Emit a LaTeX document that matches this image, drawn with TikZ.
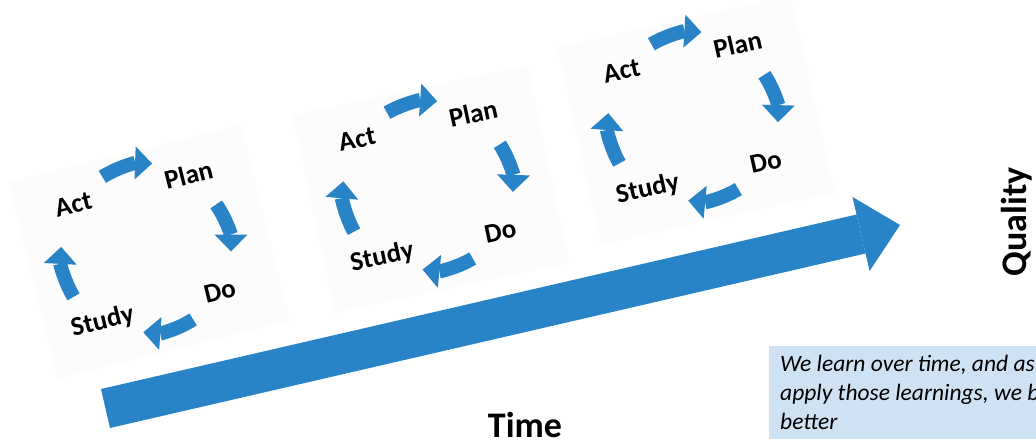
\documentclass[tikz,border=0pt]{standalone}
\usepackage{fontspec}
\setmainfont{Carlito}
\usetikzlibrary{arrows.meta}
\definecolor{pdsablue}{RGB}{41,131,199}
\definecolor{noteblue}{RGB}{207,226,243}
\tikzset{
  card/.style={fill=black!1, minimum width=240pt, minimum height=202pt, inner sep=0pt},
  stage/.style={font=\fontsize{27}{32}\selectfont\bfseries},
  turn/.style={draw=pdsablue, line width=14pt, -{Triangle[length=17pt,width=33pt,line width=0pt]}},
  timeline/.style={draw=pdsablue, line width=40pt, -{Triangle[length=40pt,width=76pt,line width=0pt]}},
  axis/.style={font=\fontsize{36}{42}\selectfont\bfseries},
  note/.style={fill=noteblue, align=left, inner xsep=11pt, inner ysep=9pt, font=\fontsize{23.5}{29}\selectfont\itshape}
}
\begin{document}
\begin{tikzpicture}[x=1pt, y=1pt]
\useasboundingbox (0,0) rectangle (1036,440);
\clip (0,0) rectangle (1036,440);
% three PDSA cycles on tilted cards
\foreach \cx/\cy/\ang/\k in {149/188.5/14/1, 431/251/12/2, 696/320/12.5/3}{
  \begin{scope}[shift={(\cx,\cy)}, rotate=\ang, transform shape]
    \node[card] (card\k) at (0,0) {};
    \node[stage] (act\k) at (-62,64) {Act};
    \node[stage] (plan\k) at (57,65) {Plan};
    \node[stage] (do\k) at (59,-56) {Do};
    \node[stage] (study\k) at (-62,-57) {Study};
    \foreach \s/\e/\r in {108/74/88, 21/-14/82, -71/-108/81, 197/163/88}
      \draw[turn] (\s:\r) arc[start angle=\s, end angle=\e, radius=\r];
  \end{scope}
}
% time arrow
\coordinate (tail) at (105.5,31.5);
\coordinate (tip) at (900,215);
\draw[timeline] (tail) -- (tip);
\node[axis, anchor=base] (time) at (525,3) {Time};
\node[axis, rotate=90] (quality) at (1017,218) {Quality};
\node[note, anchor=north west] (note) at (769,94) {We learn over time, and as we\\apply those learnings, we become\\better};
\end{tikzpicture}
\end{document}
